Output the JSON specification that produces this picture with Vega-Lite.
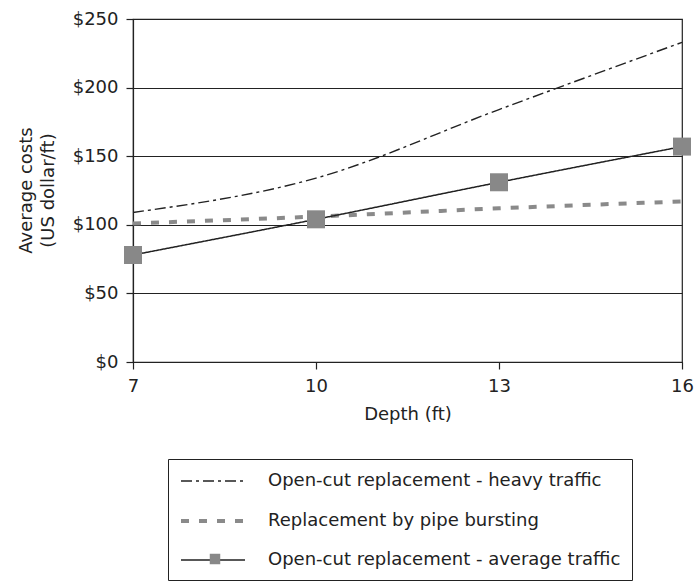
{
  "$schema": "https://vega.github.io/schema/vega-lite/v6.json",
  "width": 549,
  "height": 343,
  "autosize": {"type": "none"},
  "padding": {"left": 133, "top": 19, "right": 13, "bottom": 226},
  "config": {
    "font": "DejaVu Sans",
    "view": {"stroke": "#222", "strokeWidth": 1.2},
    "axis": {
      "domainColor": "#222",
      "tickColor": "#222",
      "labelColor": "#222",
      "titleColor": "#222",
      "labelFontSize": 18,
      "titleFontSize": 18,
      "titleFontWeight": "normal",
      "domainWidth": 1.2,
      "tickWidth": 1.2
    }
  },
  "data": {
    "values": [
      {"series": "Open-cut replacement - heavy traffic", "depth": 7, "cost": 109},
      {"series": "Open-cut replacement - heavy traffic", "depth": 10, "cost": 134},
      {"series": "Open-cut replacement - heavy traffic", "depth": 13, "cost": 184},
      {"series": "Open-cut replacement - heavy traffic", "depth": 16, "cost": 233},
      {"series": "Replacement by pipe bursting", "depth": 7, "cost": 101},
      {"series": "Replacement by pipe bursting", "depth": 10, "cost": 106},
      {"series": "Replacement by pipe bursting", "depth": 13, "cost": 112},
      {"series": "Replacement by pipe bursting", "depth": 16, "cost": 117},
      {"series": "Open-cut replacement - average traffic", "depth": 7, "cost": 78},
      {"series": "Open-cut replacement - average traffic", "depth": 10, "cost": 104},
      {"series": "Open-cut replacement - average traffic", "depth": 13, "cost": 131},
      {"series": "Open-cut replacement - average traffic", "depth": 16, "cost": 157}
    ]
  },
  "layer": [
    {
      "mark": {"type": "line", "interpolate": "monotone"},
      "encoding": {
        "x": {
          "field": "depth", "type": "quantitative",
          "scale": {"domain": [7, 16], "nice": false, "zero": false},
          "axis": {"values": [7, 10, 13, 16], "format": "d", "labelFlush": false, "grid": false, "title": "Depth (ft)", "tickSize": 7, "labelPadding": 8, "titleY": 52, "titleBaseline": "middle"}
        },
        "y": {
          "field": "cost", "type": "quantitative",
          "scale": {"domain": [0, 250], "nice": false},
          "axis": {"values": [0, 50, 100, 150, 200, 250], "format": "$d", "grid": true, "gridColor": "#222", "gridWidth": 1.2, "gridOpacity": 1, "tickSize": 7, "labelPadding": 8, "title": ["Average costs", "(US dollar/ft)"], "titleX": -107, "titleY": 171, "titleAlign": "center", "titleBaseline": "middle", "titleLineHeight": 22}
        },
        "color": {
          "field": "series", "type": "nominal",
          "scale": {"domain": ["Open-cut replacement - heavy traffic", "Replacement by pipe bursting", "Open-cut replacement - average traffic"], "range": ["#222222", "#8a8a8a", "#222222"]},
          "legend": {
            "title": null, "orient": "none", "legendX": 35, "legendY": 440, "direction": "vertical",
            "strokeColor": "#222", "padding": 11, "symbolType": "M-3.2,0L3.2,0", "symbolSize": 400,
            "symbolOffset": 22,
            "labelFontSize": 18, "labelColor": "#222", "labelOffset": 43, "rowPadding": 19, "labelLimit": 600
          }
        },
        "strokeDash": {
          "field": "series", "type": "nominal",
          "scale": {"domain": ["Open-cut replacement - heavy traffic", "Replacement by pipe bursting", "Open-cut replacement - average traffic"], "range": [[11, 4, 3, 4], [8, 10], [1, 0]]}
        },
        "strokeWidth": {
          "field": "series", "type": "nominal",
          "scale": {"type": "ordinal", "domain": ["Open-cut replacement - heavy traffic", "Replacement by pipe bursting", "Open-cut replacement - average traffic"], "range": [1.4, 4, 1.5]}
        }
      }
    },
    {
      "transform": [{"filter": "datum.series === 'Open-cut replacement - average traffic'"}],
      "mark": {"type": "point", "filled": true, "color": "#888888", "opacity": 1},
      "encoding": {
        "x": {"field": "depth", "type": "quantitative"},
        "y": {"field": "cost", "type": "quantitative"},
        "size": {"value": 324},
        "shape": {
          "field": "series", "type": "nominal",
          "scale": {"domain": ["Open-cut replacement - average traffic"], "range": ["square"]},
          "legend": {
            "title": null, "orient": "none", "legendX": 76, "legendY": 534, "padding": 0,
            "symbolSize": 110, "symbolFillColor": "#888888", "symbolStrokeColor": "#888888", "symbolOpacity": 1,
            "labelExpr": "''", "labelFontSize": 1
          }
        }
      }
    }
  ]
}
